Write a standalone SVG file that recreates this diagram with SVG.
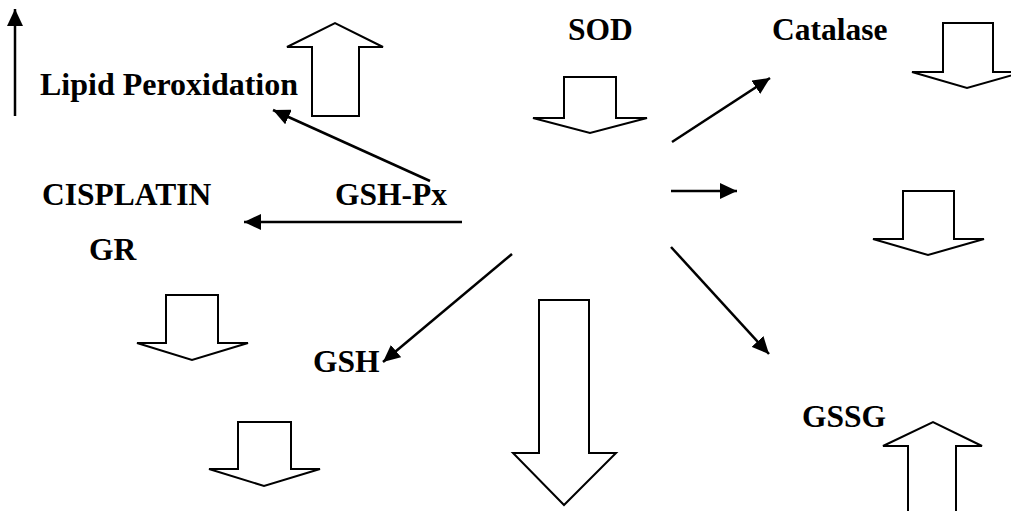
<svg xmlns="http://www.w3.org/2000/svg" width="1011" height="511" viewBox="0 0 1011 511">
<defs>
<marker id="ah" markerUnits="userSpaceOnUse" markerWidth="18" markerHeight="16" viewBox="0 0 18 16" refX="17" refY="8" orient="auto">
<path d="M0,0 L17,8 L0,16 Z" fill="#000"/>
</marker>
</defs>
<style>
text{font-family:"Liberation Serif","Times New Roman",serif;font-weight:bold;font-size:31.5px;fill:#000}
.blk{fill:#fff;stroke:#000;stroke-width:2;stroke-linejoin:miter}
.con{stroke:#000;stroke-width:2.5;fill:none;marker-end:url(#ah)}
</style>
<rect width="1011" height="511" fill="#fff"/>
<g id="connectors">
<line class="con" x1="15" y1="116" x2="15" y2="9"/>
<line class="con" x1="430" y1="181" x2="273" y2="110"/>
<line class="con" x1="462" y1="222" x2="244" y2="222"/>
<line class="con" x1="672" y1="142" x2="770" y2="78"/>
<line class="con" x1="671" y1="191" x2="737" y2="191"/>
<line class="con" x1="671" y1="247" x2="769" y2="354"/>
<line class="con" x1="512" y1="254" x2="383" y2="362"/>
</g>
<g id="lipid">
<text x="40" y="95" textLength="258" lengthAdjust="spacingAndGlyphs">Lipid Peroxidation</text>
<path class="blk" d="M312,116 L312,47 L287,47 L335,23 L383,47 L359,47 L359,116 Z"/>
</g>
<g id="sod">
<text x="568" y="40">SOD</text>
<path class="blk" d="M564,77 L616,77 L616,118 L647,118 L590,133 L533,118 L564,118 Z"/>
</g>
<g id="catalase">
<text x="772" y="40">Catalase</text>
<path class="blk" d="M943,23 L993,23 L993,72 L1023,72 L967,88 L912,72 L943,72 Z"/>
</g>
<g id="cisplatin">
<text x="42" y="205">CISPLATIN</text>
</g>
<g id="gshpx">
<text x="335" y="205">GSH-Px</text>
</g>
<g id="gr">
<text x="89" y="260">GR</text>
<path class="blk" d="M166,295 L218,295 L218,343 L248,343 L192,360 L137,343 L166,343 Z"/>
<path class="blk" d="M238,422 L291,422 L291,469 L320,469 L264,486 L209,469 L238,469 Z"/>
</g>
<g id="right-mid">
<path class="blk" d="M903,191 L954,191 L954,239 L984,239 L928,255 L873,239 L903,239 Z"/>
</g>
<g id="gsh">
<text x="313" y="372">GSH</text>
</g>
<g id="big-down">
<path class="blk" d="M539,300 L589,300 L589,453 L616,453 L564,505 L513,453 L539,453 Z"/>
</g>
<g id="gssg">
<text x="802" y="427">GSSG</text>
<path class="blk" d="M908,516 L908,446 L883,446 L933,422 L982,446 L956,446 L956,516"/>
</g>
</svg>
